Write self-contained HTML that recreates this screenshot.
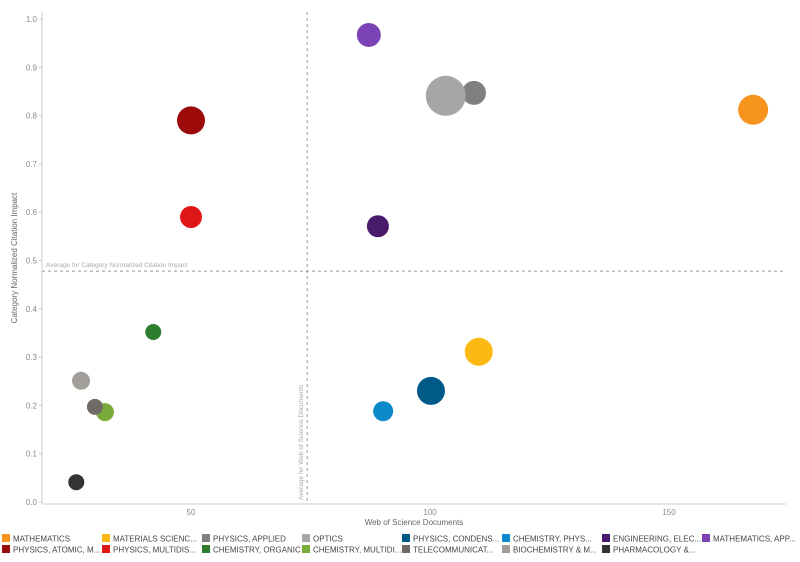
<!DOCTYPE html>
<html><head><meta charset="utf-8"><style>
body{margin:0;background:#fff;font-family:"Liberation Sans",sans-serif;}
svg text{font-family:"Liberation Sans",sans-serif;}
</style></head><body>
<svg id="chart" width="800" height="557" xmlns="http://www.w3.org/2000/svg"></svg>
<script>
const categories=["MATHEMATICS","MATERIALS SCIENC...","PHYSICS, APPLIED","OPTICS","PHYSICS, CONDENS...","CHEMISTRY, PHYS...","ENGINEERING, ELEC...","MATHEMATICS, APP...","PHYSICS, ATOMIC, M...","PHYSICS, MULTIDIS...","CHEMISTRY, ORGANIC","CHEMISTRY, MULTIDI...","TELECOMMUNICAT...","BIOCHEMISTRY & M...","PHARMACOLOGY &..."];
const colors=["#f7941d","#fdb913","#808080","#a6a6a6","#005a87","#0a8ac9","#4a1a6b","#7b43b5","#9c0a0a","#e01616","#2e7d2e","#7aab3a","#6e6a66","#a29f9a","#333333"];
const docs=[167.6,110.2,109.2,103.3,100.2,90.2,89.1,87.2,50,50,42.1,32,29.9,27,26];
const cnci=[0.812,0.311,0.847,0.841,0.23,0.188,0.571,0.967,0.79,0.59,0.352,0.186,0.197,0.251,0.041];
const sizes=[15,14,12,20,14,10,11,12,14,11,8,9,8,9,8];
const xTicks=[50,100,150];
const yTicks=[0,0.1,0.2,0.3,0.4,0.5,0.6,0.7,0.8,0.9,1.0];
const avgDocs=74.3, avgCnci=0.478;
const svg=document.getElementById('chart');
const NS='http://www.w3.org/2000/svg';
const X=v=>191+(v-50)*4.78;
const Y=v=>502-v*483;
function mk(tag,attrs,txt){const e=document.createElementNS(NS,tag);for(const k in attrs)e.setAttribute(k,attrs[k]);if(txt!==undefined)e.textContent=txt;svg.appendChild(e);return e;}
let e;
e=mk('line',{x1:42,y1:12,x2:42,y2:504,stroke:'#ccc'});


e=mk('line',{x1:42,y1:504,x2:786,y2:504,stroke:'#ccc'});


yTicks.forEach(t=>{
 e=mk('text',{x:37,y:Y(t)+3,'font-size':8,fill:'#888','text-anchor':'end'},t.toFixed(1));
 
 
 mk('line',{x1:39,y1:Y(t),x2:42,y2:Y(t),stroke:'#ccc'});
});
xTicks.forEach(t=>{
 e=mk('text',{x:X(t),y:515,'font-size':8,fill:'#888','text-anchor':'middle'},String(t));
 
 
});
e=mk('text',{x:414,y:525,'font-size':8,fill:'#666','text-anchor':'middle'},'Web of Science Documents');


e=mk('text',{x:0,y:0,'font-size':8,fill:'#666','text-anchor':'middle',transform:'translate(17,258) rotate(-90)'},'Category Normalized Citation Impact');


e=mk('line',{x1:42,y1:Y(avgCnci),x2:786,y2:Y(avgCnci),stroke:'#999','stroke-dasharray':'3,3'});


e=mk('text',{x:46,y:Y(avgCnci)-4,'font-size':6.5,fill:'#aaa'},'Average for Category Normalized Citation Impact');


e=mk('line',{x1:X(avgDocs),y1:12,x2:X(avgDocs),y2:504,stroke:'#999','stroke-dasharray':'3,3'});


e=mk('text',{x:0,y:0,'font-size':6.5,fill:'#aaa',transform:`translate(${X(avgDocs)-4},500) rotate(-90)`},'Average for Web of Science Documents');


categories.forEach((c,i)=>{
 e=mk('circle',{cx:X(docs[i]),cy:Y(cnci[i]),r:sizes[i],fill:colors[i]});
 
 
});
categories.forEach((c,i)=>{
 const col=i%8,row=Math.floor(i/8);
 const lx=2+col*100,ly=534+row*11;
 const g=document.createElementNS(NS,'g');svg.appendChild(g);
 
 
 const r=document.createElementNS(NS,'rect');r.setAttribute('x',lx);r.setAttribute('y',ly);r.setAttribute('width',8);r.setAttribute('height',8);r.setAttribute('fill',colors[i]);g.appendChild(r);
 const t=document.createElementNS(NS,'text');t.setAttribute('x',lx+11);t.setAttribute('y',ly+7.5);t.setAttribute('font-size',8);t.setAttribute('fill','#444');t.textContent=c;g.appendChild(t);
});
</script>
</body></html>
